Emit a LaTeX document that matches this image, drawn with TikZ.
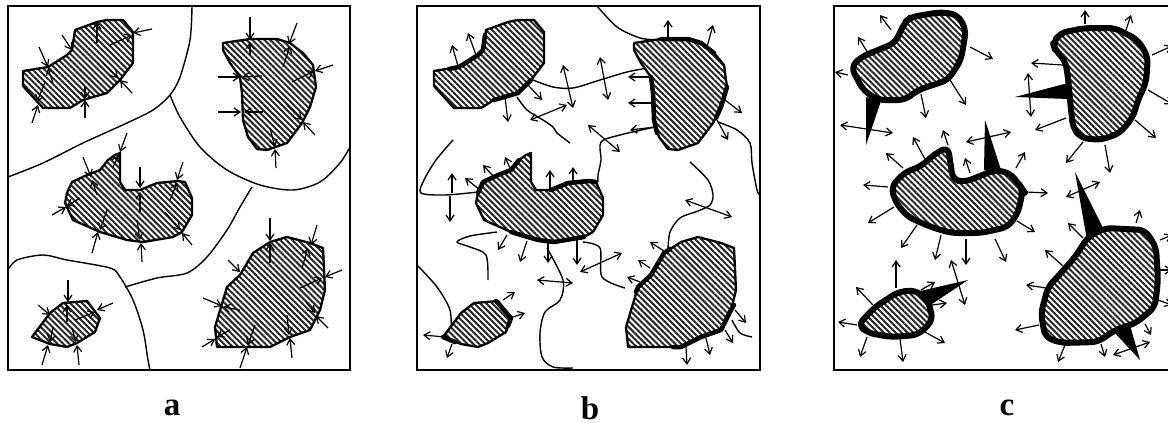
\documentclass[tikz,border=0pt]{standalone}
\usepackage{fontspec}
\setmainfont{Liberation Serif}
\usetikzlibrary{arrows.meta,patterns.meta}

\newcommand{\grainA}{(23,71) -- (23,86) -- (43,108) -- (70,108) -- (83,100) -- (107,93) -- (120,80) -- (133,63) -- (133,32) -- (123,20) -- (107,20) -- (97,22) -- (75,30) -- (72,50) -- (67,55) -- (48,67) -- cycle}
\newcommand{\grainB}{(223,43) -- (250,39) -- (277,39) -- (290,43) -- (303,53) -- (313,65) -- (316,87) -- (310,107) -- (302,123) -- (287,143) -- (267,150) -- (257,149) -- (248,137) -- (243,120) -- (242,93) -- (240,77) -- (230,63) -- (223,50) -- cycle}
\newcommand{\grainC}{(67,193) -- (72,182) -- (87,175) -- (100,170) -- (108,160) -- (115,155) -- (120,153) -- (120,182) -- (125,190) -- (140,190) -- (157,183) -- (178,181) -- (185,182) -- (192,198) -- (192,215) -- (182,232) -- (173,237) -- (143,242) -- (127,240) -- (100,232) -- (73,220) -- (65,203) -- cycle}
\newcommand{\grainD}{(32,337) -- (50,313) -- (63,303) -- (87,301) -- (100,318) -- (95,332) -- (77,343) -- (67,347) -- (50,344) -- cycle}
\newcommand{\grainE}{(217,347) -- (215,327) -- (227,287) -- (240,275) -- (253,253) -- (270,242) -- (287,237) -- (310,243) -- (323,248) -- (325,290) -- (320,310) -- (310,330) -- (290,337) -- (270,347) -- cycle}

\begin{document}
\begin{tikzpicture}[
    x=1pt, y=-1pt,
    cadre/.style={draw, line width=1.5pt},
    grain/.style={draw, line width=2.3pt, line join=round, preaction={fill=white},
                  pattern={Lines[angle=-45,distance=4.2pt,line width=2pt]}, pattern color=black!85},
    graingras/.style={grain, line width=6pt, rounded corners=7pt},
    limite/.style={line width=1.4pt},
    bordgras/.style={line width=4.5pt, line cap=round, line join=round},
    pointe/.style={fill=black, line join=round},
    fleche/.style={-{Straight Barb[length=6pt,width=8pt]}, line width=1.2pt},
    double/.style={{Straight Barb[length=6pt,width=8pt]}-{Straight Barb[length=6pt,width=8pt]}, line width=1.2pt},
    lettre/.style={inner sep=0pt, font=\fontsize{33}{36}\selectfont\bfseries}
]
    \useasboundingbox (0,0) rectangle (1168,423);

    % a
    \draw[cadre] (8,6) rectangle (350,370);
    \draw[limite] plot[smooth] coordinates {(192,6) (190,40) (180,77) (170,95) (153,110) (127,123) (83,143) (43,163) (8,177)};
    \draw[limite] plot[smooth] coordinates {(170,95) (180,117) (200,147) (227,170) (260,185) (293,190) (320,182) (340,163) (350,147)};
    \draw[limite] plot[smooth] coordinates {(252,187) (240,207) (227,230) (207,257) (187,273) (157,278) (125,287)};
    \draw[limite] plot[smooth] coordinates {(8,270) (17,260) (43,255) (67,260) (110,268) (120,277) (133,300) (143,330) (148,360) (150,370)};
    \draw[grain] \grainA;
    \draw[grain] \grainB;
    \draw[grain] \grainC;
    \draw[grain] \grainD;
    \draw[grain] \grainE;

    \draw[fleche] (97,43) -- (97,22);
    \draw[fleche] (110,45) -- (132,35);
    \draw[fleche] (152,29) -- (133,33);
    \draw[fleche] (62,35) -- (72,50);
    \draw[fleche] (39,47) -- (48,67);
    \draw[fleche] (53,83) -- (48,68);
    \draw[fleche] (103,63) -- (118,78);
    \draw[fleche] (132,93) -- (120,80);
    \draw[fleche] (45,82) -- (37,102);
    \draw[fleche] (32,123) -- (38,105);
    \draw[fleche] (85,118) -- (85,100);
    \draw[fleche] (85,86) -- (85,99);

    \draw[fleche] (250,17) -- (250,40);
    \draw[fleche] (250,55) -- (250,42);
    \draw[fleche] (297,23) -- (289,44);
    \draw[fleche] (283,67) -- (290,46);
    \draw[fleche] (333,65) -- (315,71);
    \draw[fleche] (292,82) -- (314,71);
    \draw[fleche] (218,77) -- (240,77);
    \draw[fleche] (262,76) -- (242,77);
    \draw[fleche] (218,112) -- (241,112);
    \draw[fleche] (263,112) -- (244,112);
    \draw[fleche] (287,105) -- (302,120);
    \draw[fleche] (315,135) -- (303,122);
    \draw[fleche] (270,128) -- (275,147);
    \draw[fleche] (276,168) -- (275,149);

    \draw[fleche] (83,157) -- (91,177);
    \draw[fleche] (97,195) -- (92,180);
    \draw[fleche] (140,167) -- (140,188);
    \draw[fleche] (140,212) -- (140,192);
    \draw[fleche] (183,162) -- (177,180);
    \draw[fleche] (170,200) -- (177,183);
    \draw[fleche] (127,133) -- (120,152);
    \draw[fleche] (113,167) -- (119,155);
    \draw[fleche] (52,215) -- (66,207);
    \draw[fleche] (80,198) -- (67,206);
    \draw[fleche] (92,253) -- (98,232);
    \draw[fleche] (107,210) -- (100,230);
    \draw[fleche] (142,262) -- (141,243);
    \draw[fleche] (137,220) -- (140,240);
    \draw[fleche] (192,245) -- (182,233);
    \draw[fleche] (165,212) -- (180,230);

    \draw[fleche] (68,280) -- (68,302);
    \draw[fleche] (67,322) -- (67,305);
    \draw[fleche] (38,305) -- (50,315);
    \draw[fleche] (113,303) -- (97,310);
    \draw[fleche] (75,320) -- (95,312);
    \draw[fleche] (42,365) -- (48,345);
    \draw[fleche] (53,327) -- (50,342);
    \draw[fleche] (79,365) -- (77,345);
    \draw[fleche] (72,328) -- (76,342);

    \draw[fleche] (270,218) -- (270,241);
    \draw[fleche] (270,263) -- (270,243);
    \draw[fleche] (317,225) -- (311,245);
    \draw[fleche] (302,268) -- (308,248);
    \draw[fleche] (228,260) -- (240,272);
    \draw[fleche] (342,270) -- (325,277);
    \draw[fleche] (300,288) -- (322,278);
    \draw[fleche] (203,298) -- (222,306);
    \draw[fleche] (240,310) -- (223,307);
    \draw[fleche] (328,328) -- (316,316);
    \draw[fleche] (306,302) -- (315,313);
    \draw[fleche] (202,347) -- (215,339);
    \draw[fleche] (230,330) -- (217,337);
    \draw[fleche] (240,368) -- (247,347);
    \draw[fleche] (255,325) -- (248,345);
    \draw[fleche] (292,358) -- (290,338);
    \draw[fleche] (287,315) -- (289,335);

    \node[lettre] (la) at (172,408) {a};

    % b
    \draw[cadre] (417,6) rectangle (760,370);
    \draw[limite] plot[smooth] coordinates {(597,6) (617,27) (640,38) (660,40)};
    \draw[limite] plot[smooth] coordinates {(533,80) (553,87) (573,88) (600,80) (627,72) (648,68)};
    \draw[limite] plot[smooth] coordinates {(517,97) (527,110) (543,120) (553,127) (557,133) (570,143)};
    \draw[limite] plot[smooth] coordinates {(718,122) (737,130) (750,143) (752,163) (757,190) (760,195)};
    \draw[limite] plot[smooth] coordinates {(690,162) (708,180) (713,195) (710,205) (698,211) (680,218) (670,232) (668,250)};
    \draw[limite] plot[smooth] coordinates {(655,127) (620,135) (601,142) (601,160) (598,175) (598,182)};
    \draw[limite] plot[smooth] coordinates {(453,140) (436,160) (424,180) (421,193) (445,195) (478,192)};
    \draw[limite] plot[smooth] coordinates {(547,248) (563,280) (560,300) (545,312) (540,333) (542,357) (553,367) (573,368)};
    \draw[limite] plot[smooth] coordinates {(583,242) (600,248) (602,277) (625,288)};
    \draw[limite] plot[smooth] coordinates {(488,280) (486,255) (470,247) (457,242) (470,236) (497,232)};
    \draw[limite] plot[smooth] coordinates {(417,265) (437,287) (450,310) (451,333)};
    \draw[limite] plot[smooth] coordinates {(732,320) (740,333) (752,337)};
    \begin{scope}[shift={(411,0)}]
        \draw[grain] \grainA;
        \draw[grain] \grainB;
        \draw[grain] \grainC;
        \draw[grain] \grainD;
        \draw[grain] \grainE;
    \end{scope}
    \draw[bordgras] (449,69) -- (459,67) -- (478,55) -- (483,50) -- (485,35);
    \draw[bordgras] (494,100) -- (518,93) -- (531,80);
    \draw[bordgras] (661,39) -- (688,39) -- (701,43) -- (714,53);
    \draw[bordgras] (651,77) -- (653,93) -- (654,120) -- (657,133);
    \draw[bordgras] (727,87) -- (721,107) -- (716,118);
    \draw[bordgras] (478,193) -- (483,182) -- (498,175) -- (511,170) -- (519,160);
    \draw[bordgras] (551,190) -- (568,183) -- (589,181) -- (596,182);
    \draw[bordgras] (511,232) -- (538,240) -- (554,242) -- (584,237);
    \draw[bordgras] (496,301) -- (511,318) -- (508,326);
    \draw[bordgras] (443,337) -- (455,342);
    \draw[bordgras] (636,292) -- (638,287) -- (651,275) -- (664,253) -- (670,249);
    \draw[bordgras] (734,305) -- (731,310) -- (721,330) -- (701,337) -- (681,347) -- (673,347);

    \draw[fleche] (458,66) -- (452,45);
    \draw[fleche] (476,55) -- (468,33);
    \draw[fleche] (505,97) -- (508,122);
    \draw[fleche] (528,85) -- (542,100);
    \draw[double] (563,65) -- (573,108);
    \draw[double] (600,57) -- (608,100);
    \draw[double] (530,120) -- (567,105);
    \draw[double] (588,125) -- (620,152);
    \draw[fleche] (668,39) -- (668,20);
    \draw[fleche] (707,47) -- (713,25);
    \draw[fleche] (725,100) -- (742,113);
    \draw[fleche] (717,120) -- (728,140);
    \draw[fleche] (651,77) -- (628,77);
    \draw[fleche] (653,103) -- (628,103);
    \draw[fleche] (655,127) -- (630,130);
    \draw[fleche] (452,193) -- (452,173);
    \draw[fleche] (450,196) -- (450,222);
    \draw[fleche] (480,190) -- (465,178);
    \draw[fleche] (494,177) -- (483,165);
    \draw[fleche] (511,170) -- (505,157);
    \draw[fleche] (550,192) -- (550,170);
    \draw[fleche] (573,185) -- (573,167);
    \draw[fleche] (507,235) -- (498,250);
    \draw[fleche] (527,241) -- (520,262);
    \draw[fleche] (548,243) -- (548,263);
    \draw[fleche] (577,240) -- (577,265);
    \draw[double] (537,280) -- (573,283);
    \draw[double] (580,272) -- (622,253);
    \draw[double] (685,200) -- (732,217);
    \draw[fleche] (503,300) -- (515,292);
    \draw[fleche] (510,318) -- (525,313);
    \draw[fleche] (445,337) -- (423,335);
    \draw[fleche] (452,344) -- (447,358);
    \draw[fleche] (664,251) -- (650,242);
    \draw[fleche] (650,268) -- (638,260);
    \draw[fleche] (640,282) -- (627,277);
    \draw[fleche] (735,310) -- (746,323);
    \draw[fleche] (725,330) -- (733,343);
    \draw[fleche] (706,338) -- (710,355);
    \draw[fleche] (686,347) -- (687,365);

    \node[lettre] (lb) at (590,408) {b};

    % c
    \draw[cadre] (834,6) rectangle (1176,370);
    \fill[pointe] (866,97) -- (881,101) -- (866,145) -- cycle;
    \fill[pointe] (1068,83) -- (1068,99) -- (1015,97) -- cycle;
    \fill[pointe] (985,120) -- (984,170) -- (1001,170) -- cycle;
    \fill[pointe] (1075,172) -- (1087,240) -- (1104,230) -- cycle;
    \fill[pointe] (1113,331) -- (1129,322) -- (1140,360) -- cycle;
    \fill[pointe] (916,292) -- (929,306) -- (968,280) -- cycle;
    \draw[graingras] (851,67) -- (863,90) -- (878,100) -- (905,100) -- (918,90) -- (948,80) -- (961,60) -- (966,30) -- (958,15) -- (941,12) -- (911,17) -- (905,22) -- (895,43) -- (861,57) -- cycle;
    \draw[graingras] (1053,43) -- (1060,33) -- (1085,28) -- (1115,28) -- (1138,40) -- (1148,57) -- (1146,83) -- (1138,100) -- (1133,117) -- (1120,133) -- (1101,140) -- (1081,138) -- (1073,128) -- (1070,100) -- (1068,77) -- (1065,60) -- (1055,50) -- cycle;
    \draw[graingras] (891,187) -- (905,172) -- (920,167) -- (936,153) -- (948,147) -- (953,180) -- (965,182) -- (995,170) -- (1010,173) -- (1021,187) -- (1023,190) -- (1018,213) -- (1008,227) -- (981,233) -- (951,233) -- (931,227) -- (908,217) -- (896,203) -- cycle;
    \draw[graingras] (1045,337) -- (1041,313) -- (1048,287) -- (1061,273) -- (1075,257) -- (1088,237) -- (1105,228) -- (1145,230) -- (1156,247) -- (1158,280) -- (1155,307) -- (1136,323) -- (1115,330) -- (1098,342) -- (1061,343) -- cycle;
    \draw[graingras] (858,325) -- (875,307) -- (898,292) -- (915,290) -- (928,300) -- (933,320) -- (918,335) -- (891,337) -- (868,333) -- cycle;

    \draw[fleche] (891,30) -- (880,15);
    \draw[fleche] (868,53) -- (858,37);
    \draw[fleche] (848,75) -- (835,72);
    \draw[fleche] (970,47) -- (993,59);
    \draw[fleche] (950,80) -- (966,105);
    \draw[fleche] (921,94) -- (926,118);
    \draw[double] (840,125) -- (893,133);
    \draw[fleche] (1085,24) -- (1085,10);
    \draw[fleche] (1126,30) -- (1131,15);
    \draw[fleche] (1152,55) -- (1172,46);
    \draw[fleche] (1148,90) -- (1172,104);
    \draw[fleche] (1135,120) -- (1156,138);
    \draw[fleche] (1063,65) -- (1031,63);
    \draw[fleche] (1066,118) -- (1035,130);
    \draw[fleche] (1083,142) -- (1066,163);
    \draw[fleche] (1105,145) -- (1110,173);
    \draw[double] (1028,73) -- (1031,117);
    \draw[fleche] (926,161) -- (913,137);
    \draw[fleche] (948,145) -- (943,130);
    \draw[fleche] (903,168) -- (886,153);
    \draw[fleche] (970,173) -- (965,158);
    \draw[fleche] (1016,168) -- (1025,152);
    \draw[fleche] (888,187) -- (863,185);
    \draw[fleche] (1026,192) -- (1048,193);
    \draw[fleche] (894,207) -- (868,223);
    \draw[fleche] (917,225) -- (901,248);
    \draw[fleche] (941,235) -- (935,260);
    \draw[fleche] (966,239) -- (966,265);
    \draw[fleche] (995,239) -- (1006,262);
    \draw[fleche] (1017,221) -- (1035,232);
    \draw[double] (966,142) -- (1011,132);
    \draw[double] (1066,197) -- (1100,182);
    \draw[fleche] (1136,223) -- (1140,210);
    \draw[fleche] (1083,238) -- (1068,223);
    \draw[fleche] (1063,266) -- (1045,250);
    \draw[fleche] (1046,288) -- (1026,285);
    \draw[fleche] (1039,325) -- (1015,330);
    \draw[fleche] (1065,345) -- (1058,362);
    \draw[fleche] (1101,344) -- (1105,357);
    \draw[fleche] (1145,324) -- (1151,335);
    \draw[fleche] (1158,300) -- (1172,305);
    \draw[fleche] (1160,270) -- (1172,270);
    \draw[fleche] (1160,240) -- (1172,235);
    \draw[double] (1113,355) -- (1150,342);
    \draw[fleche] (896,288) -- (896,260);
    \draw[fleche] (873,305) -- (856,287);
    \draw[fleche] (857,325) -- (838,322);
    \draw[fleche] (867,337) -- (860,357);
    \draw[fleche] (900,339) -- (903,362);
    \draw[fleche] (923,331) -- (945,343);
    \draw[fleche] (921,290) -- (935,282);
    \draw[fleche] (932,305) -- (947,303);
    \draw[double] (951,260) -- (965,305);

    \node[lettre] (lc) at (1007,408) {c};
\end{tikzpicture}
\end{document}
